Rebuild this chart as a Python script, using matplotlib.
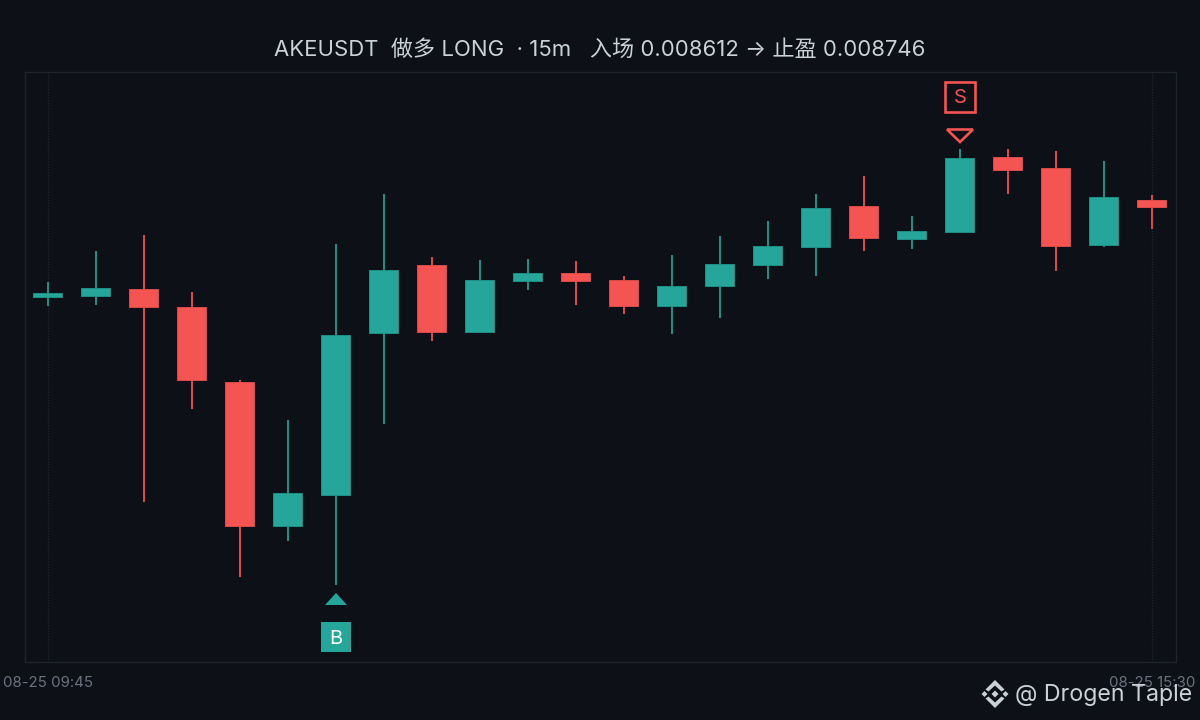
import matplotlib
matplotlib.use("Agg")
import matplotlib.pyplot as plt
from matplotlib.patches import Rectangle, Polygon

plt.rcParams['font.family'] = ['Inter', 'Noto Sans CJK SC', 'DejaVu Sans']

# Heights above the bottom of the 720 px canvas
opens  = [422, 423, 431, 413, 338, 194, 224, 386, 455, 387, 438, 447, 440, 413, 433, 454, 472, 514, 480, 487, 563, 552, 474, 520]
highs  = [438, 469, 485, 428, 340, 300, 476, 526, 463, 460, 461, 459, 444, 465, 484, 499, 526, 544, 504, 571, 571, 569, 559, 525]
lows   = [414, 415, 218, 311, 143, 179, 135, 296, 379, 387, 430, 415, 406, 386, 402, 441, 444, 469, 471, 487, 526, 449, 473, 491]
closes = [427, 432, 412, 339, 194, 227, 385, 450, 387, 440, 447, 438, 413, 434, 456, 474, 512, 481, 489, 562, 550, 473, 523, 513]
index  = list(range(len(closes)))
x_labels = ['08-25 09:45', '08-25 15:30']

BG = '#0d1017'
UP = '#26a69a'
DOWN = '#f45452'
UP_DARK = '#1f8f85'
DOWN_DARK = '#d84a48'

fig = plt.figure(figsize=(12, 7.2), dpi=100, facecolor=BG)
ax = fig.add_axes([25/1200, 1-662/720, (1176-25)/1200, (662-72)/720], facecolor=BG)
ax.set_xlim((25-48)/48, (1176-48)/48)
ax.set_ylim(720-662, 720-72)
for s in ax.spines.values():
    s.set_color('#20242c'); s.set_linewidth(1)
ax.set_yticks([]); ax.set_xticks([])
for xv in (0, 23):
    ax.axvline(xv, color='#20242c', lw=1, ls=(0, (1, 1)), zorder=0)

for i, o, h, l, c in zip(index, opens, highs, lows, closes):
    up = c >= o
    ax.plot([i, i], [l, h], color=UP_DARK if up else DOWN_DARK, lw=1.45, zorder=2, solid_capstyle='butt')
    ax.add_patch(Rectangle((i-0.312, min(o, c)+0.5), 0.6, abs(c-o)-0.6, fc=UP if up else DOWN,
                           ec=UP_DARK if up else DOWN_DARK, lw=0.7, zorder=3))

# Buy marker
ax.add_patch(Polygon([(5.77, 115), (6.23, 115), (6, 127)], closed=True, fc=UP, ec='none', zorder=4))
ax.add_patch(Rectangle((5.69, 68), 0.62, 30, fc=UP, ec='none', zorder=4))
ax.text(6, 81.5, 'B', color='white', fontsize=14.5, ha='center', va='center', zorder=5)
# Sell marker
ax.add_patch(Polygon([(18.73, 590.5), (19.27, 590.5), (19, 578)], closed=True, fc='none', ec=DOWN, lw=1.9, zorder=4))
ax.add_patch(Rectangle((18.68, 608.3), 0.635, 29.4, fc='none', ec=DOWN, lw=1.9, zorder=4, clip_on=False))
ax.text(19, 622, 'S', color=DOWN, fontsize=14.5, ha='center', va='center', zorder=5)

fig.text(600/1200, 1-49.5/720, 'AKEUSDT  做多 LONG  · 15m   入场 0.008612 → 止盈 0.008746',
         color='#c9d1d9', fontsize=15.9, ha='center', va='center')
fig.text(3/1200, 1-683/720, x_labels[0], color='#6b7280', fontsize=10.8, ha='left', va='center')
fig.text(1195/1200, 1-683/720, x_labels[1], color='#6b7280', fontsize=10.8, ha='right', va='center')
fig.text(1192/1200, 1-695.5/720, '@ Drogen Taple', color='#c9d1d9', fontsize=16.7, ha='right', va='center')

# Binance-style diamond logo
lx, ly = 995, 694
def px(x, y):
    return (x/1200, 1-y/720)
def diamond(cx, cy, r):
    fig.add_artist(Polygon([px(cx-r, cy), px(cx, cy-r), px(cx+r, cy), px(cx, cy+r)],
                           closed=True, fc='#c9d1d9', ec='none', transform=fig.transFigure))
diamond(lx, ly, 3.5)
diamond(lx-10.5, ly, 3)
diamond(lx+10.5, ly, 3)
for sign in (-1, 1):
    fig.add_artist(Polygon([px(lx-9.5, ly+sign*4.5), px(lx, ly+sign*14), px(lx+9.5, ly+sign*4.5),
                            px(lx+6.5, ly+sign*2.5), px(lx, ly+sign*8.5), px(lx-6.5, ly+sign*2.5)],
                           closed=True, fc='#c9d1d9', ec='none', transform=fig.transFigure))

fig.savefig('out.png', dpi=100, facecolor=BG)
